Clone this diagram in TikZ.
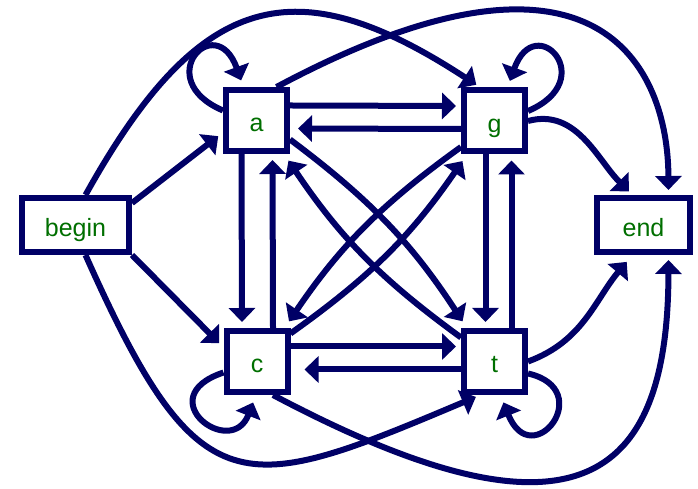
\documentclass[tikz,border=0pt]{standalone}
\usepackage{fontspec}
\setmainfont{Liberation Sans}
\usetikzlibrary{arrows.meta}
\definecolor{navy}{HTML}{000066}
\definecolor{lblgreen}{HTML}{006F00}

\begin{document}
\begin{tikzpicture}[x=1pt, y=1pt, >={Triangle[length=14pt,width=26pt]},
    statebox/.style={draw=navy, line width=6pt, fill=white, minimum size=61pt,
      inner sep=0pt, text=lblgreen, text height=23pt, text depth=0pt,
      font=\fontsize{25}{28}\selectfont},
    termbox/.style={statebox, minimum height=54pt},
    trans/.style={->, navy, line width=6pt, shorten >=5pt}]
  \useasboundingbox (0,0) rectangle (698,489);
  %--- States
  \node[termbox, minimum width=107pt] (begin) at (75.5,264) {begin};
  \node[statebox] (a) at (256.5,368.5) {a};
  \node[statebox] (g) at (494.5,368) {g};
  \node[statebox] (c) at (257,127.5) {c};
  \node[statebox] (t) at (494.5,127.5) {t};
  \node[termbox, minimum width=93pt] (end) at (643.5,264) {end};
  %--- From begin
  \draw[trans, shorten >=6pt] ([yshift=22pt]begin.east) -- ([yshift=-12pt]a.west);
  \draw[trans, shorten >=6pt] (begin.south east) -- ([yshift=14pt]c.west);
  \draw[trans] ([xshift=10pt]begin.north) .. controls (200,500) and (296,522) .. ([xshift=-14pt]g.north);
  \draw[trans] ([xshift=10pt]begin.south) .. controls (199.5,-22) and (241,-7) .. ([xshift=-14pt]t.south);
  %--- Horizontal pairs
  \draw[trans] ([yshift=15pt]a.east) -- ([yshift=15pt]g.west);
  \draw[trans, shorten >=8pt] ([yshift=-8pt]g.west) -- ([yshift=-8pt]a.east);
  \draw[trans] ([yshift=15pt]c.east) -- ([yshift=15pt]t.west);
  \draw[trans, shorten >=14pt] ([yshift=-8pt]t.west) -- ([yshift=-8pt]c.east);
  %--- Vertical pairs
  \draw[trans, shorten >=6pt] ([xshift=-15pt]a.south) -- ([xshift=-15pt]c.north);
  \draw[trans, shorten >=6pt] ([xshift=16pt]c.north) -- ([xshift=16pt]a.south);
  \draw[trans, shorten >=6pt] ([xshift=-9pt]g.south) -- ([xshift=-9pt]t.north);
  \draw[trans, shorten >=6pt] ([xshift=17pt]t.north) -- ([xshift=17pt]g.south);
  %--- Diagonals
  \draw[trans, shorten >=8pt] ([yshift=-19pt]a.east) to[bend left=10] ([xshift=6pt]t.north west);
  \draw[trans, shorten >=8pt] ([yshift=24pt]t.west) to[bend left=10] ([xshift=-6pt]a.south east);
  \draw[trans, shorten >=8pt] ([yshift=-26pt]g.west) to[bend right=10] ([xshift=-6pt]c.north east);
  \draw[trans, shorten >=8pt] ([yshift=28pt]c.east) to[bend right=10] ([xshift=6pt]g.south west);
  %--- Self loops
  \draw[trans, shorten >=7pt] ([yshift=10pt]a.west) .. controls +(-73,31) and +(-28,78) .. ([xshift=-13pt]a.north);
  \draw[trans, shorten >=7pt] ([yshift=10pt]g.east) .. controls +(73,31) and +(28,78) .. ([xshift=13pt]g.north);
  \draw[trans, shorten >=8pt] ([yshift=-11pt]c.west) .. controls +(-75,-25) and +(-25,-65) .. ([xshift=-1pt]c.south);
  \draw[trans, shorten >=8pt] ([yshift=-12pt]t.east) .. controls +(70,-16) and +(31.5,-79) .. ([xshift=6pt]t.south);
  %--- Into end
  \draw[trans] (g.east) to[out=15, in=135] ([xshift=-11pt]end.north);
  \draw[trans, shorten >=9pt] (t.east) to[out=20, in=230] ([xshift=-11pt]end.south);
  \draw[trans] ([xshift=20pt]a.north) .. controls (600,575) and (668,420) .. ([xshift=25pt]end.north);
  \draw[trans] ([xshift=16pt]c.south) .. controls (573,-65) and (668,4) .. ([xshift=25pt]end.south);
\end{tikzpicture}
\end{document}
